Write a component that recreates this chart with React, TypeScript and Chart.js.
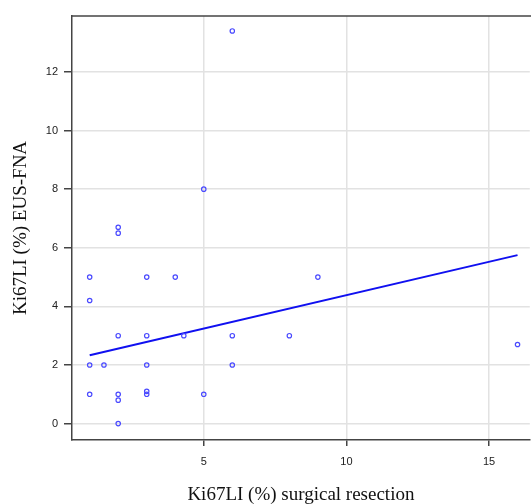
import React, { useEffect, useRef } from "react";
import { Chart, registerables } from "chart.js";

Chart.register(...registerables);

const xValues = [1, 1, 1, 1, 1.5, 2, 2, 2, 2, 2, 2, 3, 3, 3, 3, 3, 4, 4.3, 5, 5, 6, 6, 6, 8, 9, 16];
const yValues = [5, 4.2, 2, 1, 2, 6.7, 6.5, 3, 1, 0.8, 0, 5, 3, 2, 1.1, 1, 5, 3, 8, 1, 13.4, 3, 2, 3, 5, 2.7];
const fitX = [1, 16];
const fitY = [2.33, 5.75];
const xTicks = [5, 10, 15];
const yTicks = [0, 2, 4, 6, 8, 10, 12];
const xTitle = "Ki67LI (%) surgical resection";
const yTitle = "Ki67LI (%) EUS-FNA";

const topBorder = {
  id: "topBorder",
  afterDraw(chart: any) {
    const { ctx, chartArea } = chart;
    ctx.save();
    ctx.strokeStyle = "#444";
    ctx.lineWidth = 1.5;
    ctx.beginPath();
    ctx.moveTo(chartArea.left, chartArea.top);
    ctx.lineTo(chart.width, chartArea.top);
    ctx.stroke();
    ctx.restore();
  },
};

export default function App() {
  const ref = useRef<HTMLCanvasElement>(null);
  useEffect(() => {
    if (!ref.current) return;
    const chart = new Chart(ref.current, {
      type: "scatter",
      data: {
        datasets: [
          {
            data: xValues.map((x, i) => ({ x, y: yValues[i] })),
            pointRadius: 2.2,
            pointBorderWidth: 1.2,
            borderColor: "#4a4aff",
            backgroundColor: "rgba(0,0,0,0)",
            showLine: false,
          },
          {
            data: fitX.map((x, i) => ({ x, y: fitY[i] })),
            showLine: true,
            pointRadius: 0,
            borderColor: "#1010f0",
            borderWidth: 2,
          },
        ],
      },
      options: {
        responsive: false,
        animation: false,
        layout: { padding: { top: 16, right: 0, bottom: 0, left: 0 } },
        plugins: { legend: { display: false }, tooltip: { enabled: false } },
        scales: {
          x: {
            type: "linear",
            min: 0.38,
            max: 16.43,
            afterFit: (s: any) => { s.height = 64; },
            afterBuildTicks: (s: any) => { s.ticks = xTicks.map((v) => ({ value: v })); },
            grid: { color: "#e2e2e2", lineWidth: 1.5, tickColor: "#444", tickLength: 6 },
            border: { color: "#444", width: 1.5 },
            ticks: { font: { family: "Liberation Sans", size: 11 }, color: "#222", padding: 9, maxRotation: 0 },
            title: {
              display: true,
              text: xTitle,
              font: { family: "Liberation Serif", size: 19 },
              color: "#111",
              padding: { top: 0, bottom: -2 },
            },
          },
          y: {
            type: "linear",
            min: -0.56,
            max: 13.91,
            afterFit: (s: any) => { s.width = 72; },
            afterBuildTicks: (s: any) => { s.ticks = yTicks.map((v) => ({ value: v })); },
            grid: { color: "#e2e2e2", lineWidth: 1.5, tickColor: "#444", tickLength: 8 },
            border: { color: "#444", width: 1.5 },
            ticks: { font: { family: "Liberation Sans", size: 11 }, color: "#222", padding: 6 },
            title: {
              display: true,
              text: yTitle,
              font: { family: "Liberation Serif", size: 19 },
              color: "#111",
              padding: { top: 10, bottom: 0 },
            },
          },
        },
      },
      plugins: [topBorder],
    });
    return () => chart.destroy();
  }, []);
  return (
    <div style={{ position: "absolute", left: 0, top: 0, width: 531, height: 504, overflow: "hidden" }}>
      <canvas ref={ref} width={535} height={504} style={{ width: 535, height: 504, display: "block" }} />
    </div>
  );
}
